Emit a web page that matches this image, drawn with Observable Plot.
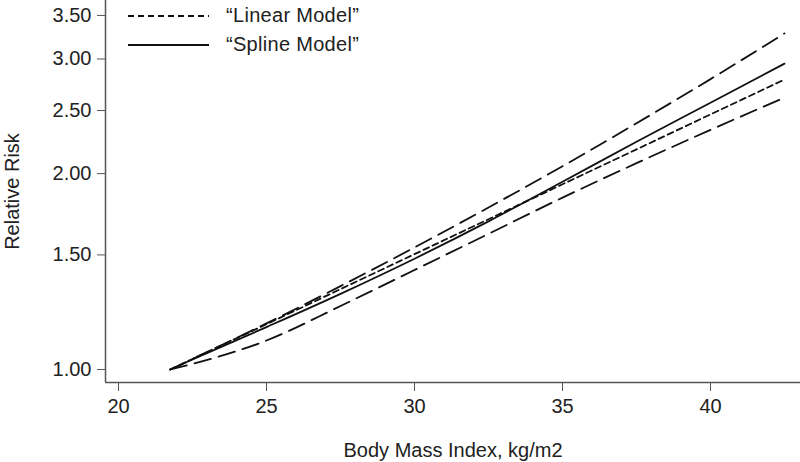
<!DOCTYPE html>
<html>
<head>
<meta charset="utf-8">
<script src="https://cdn.jsdelivr.net/npm/d3@7"></script>
<script src="https://cdn.jsdelivr.net/npm/@observablehq/plot@0.6"></script>
<style>
  html, body { margin: 0; padding: 0; background: #fff; }
  #wrap { position: relative; width: 800px; height: 462px; font-family: "Liberation Sans", Arial, sans-serif; }
  #legend { position: absolute; left: 128px; top: 1px; font-size: 20px; letter-spacing: 0.3px; color: #222; }
  .row { display: flex; align-items: center; height: 29px; }
  .row svg { width: 81px; height: 10px; margin-right: 17px; }
</style>
</head>
<body>
<div id="wrap">
  <div id="chart"></div>
  <div id="legend"></div>
</div>
<script>
// Data (BMI, kg/m2 vs relative risk)
const bmi      = [21.75, 22.5, 25, 27.5, 30, 32.5, 35, 37.5, 40, 42.5];
const linearRR = [1.00, 1.038, 1.174, 1.329, 1.504, 1.702, 1.926, 2.179, 2.466, 2.79];
const splineRR = [1.00, 1.036, 1.162, 1.307, 1.48, 1.689, 1.943, 2.239, 2.57, 2.951];
const upperRR  = [1.00, 1.038, 1.177, 1.343, 1.54, 1.774, 2.053, 2.39, 2.794, 3.285];
const lowerRR  = [1.00, 1.02, 1.108, 1.252, 1.422, 1.616, 1.837, 2.075, 2.335, 2.617];

const xTicks = [20, 25, 30, 35, 40];
const yTicks = [1.00, 1.50, 2.00, 2.50, 3.00, 3.50];
const xDomain = [19.56, 43.04];
const yDomain = [0.955, 3.69];

const legendItems = [
  {label: "\u201CLinear Model\u201D", dash: "6,4"},
  {label: "\u201CSpline Model\u201D", dash: null}
];

const toRows = (ys) => bmi.map((x, i) => ({x, y: ys[i]}));
const lineOpts = {x: "x", y: "y", stroke: "#111", strokeWidth: 1.8, curve: "monotone-x"};

const chart = Plot.plot({
  width: 800,
  height: 462,
  marginLeft: 105,
  marginRight: 0,
  marginTop: 0,
  marginBottom: 80,
  style: {fontFamily: "'Liberation Sans', Arial, sans-serif", fontSize: "20px", color: "#222", background: "#fff"},
  x: {domain: xDomain},
  y: {type: "log", domain: yDomain},
  marks: [
    Plot.ruleX([xDomain[0]], {stroke: "#555", strokeWidth: 1.5}),
    Plot.ruleY([yDomain[0]], {stroke: "#555", strokeWidth: 1.5}),
    Plot.axisY({ticks: yTicks, tickFormat: d3.format(".2f"), tickSize: 8, tickPadding: 6,
      stroke: "#555", fill: "#222", fontSize: 20,
      label: "Relative Risk", labelAnchor: "center", labelArrow: "none", labelOffset: 101}),
    Plot.axisX({ticks: xTicks, tickFormat: d3.format("d"), tickSize: 9, tickPadding: 7,
      stroke: "#555", fill: "#222", fontSize: 20,
      label: "Body Mass Index, kg/m2", labelAnchor: "center", labelArrow: "none", labelOffset: 74}),
    Plot.line(toRows(upperRR), {...lineOpts, strokeDasharray: "17,8"}),
    Plot.line(toRows(lowerRR), {...lineOpts, strokeDasharray: "17,8"}),
    Plot.line(toRows(linearRR), {...lineOpts, strokeDasharray: "6,4"}),
    Plot.line(toRows(splineRR), {...lineOpts})
  ]
});
document.getElementById("chart").appendChild(chart);

const legend = document.getElementById("legend");
for (const item of legendItems) {
  const row = document.createElement("div");
  row.className = "row";
  row.innerHTML = `<svg viewBox="0 0 81 10"><line x1="0" y1="5" x2="81" y2="5" stroke="#111" stroke-width="1.8" ${item.dash ? `stroke-dasharray="${item.dash}"` : ""}/></svg><span>${item.label}</span>`;
  legend.appendChild(row);
}
</script>
</body>
</html>
